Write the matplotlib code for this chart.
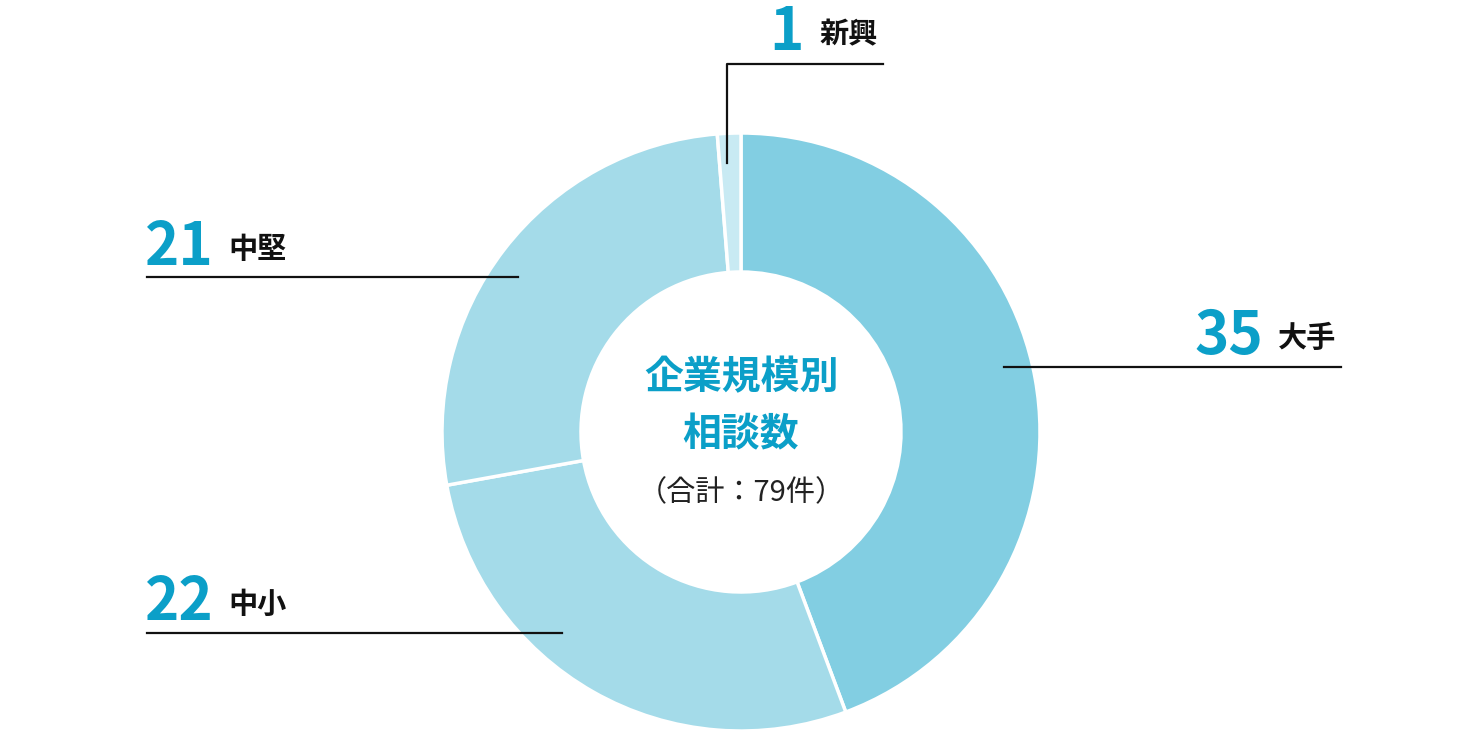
import matplotlib
matplotlib.use("Agg")
import matplotlib.pyplot as plt

plt.rcParams["font.family"] = ["Noto Sans CJK JP", "DejaVu Sans"]

categories = ["大手", "中小", "中堅", "新興"]
counts = [35, 22, 21, 1]
colors = ["#82CEE2", "#A4DBE9", "#A4DBE9", "#C8EAF3"]
title_lines = ["企業規模別", "相談数"]
total_label = "（合計：{}件）".format(sum(counts))

W, H = 1480, 736
BLUE = "#0B9FC8"


def py(y):
    # pixel row (from top) to data y
    return H - y


fig = plt.figure(figsize=(W / 100, H / 100), dpi=100)
ax = fig.add_axes([0, 0, 1, 1])
ax.set_xlim(0, W)
ax.set_ylim(0, H)
ax.set_aspect("equal")
ax.axis("off")

cx, cy, r_out, r_in = 741, 432, 299, 160
ax.pie(counts, colors=colors, startangle=90, counterclock=False,
       center=(cx, py(cy)), radius=r_out, frame=True,
       wedgeprops=dict(width=r_out - r_in, edgecolor="white", linewidth=2.5))
ax.set_xlim(0, W)
ax.set_ylim(0, H)
ax.axis("off")

# center text
ax.text(cx, py(378), title_lines[0], fontsize=28, fontweight="bold",
        color=BLUE, ha="center", va="center")
ax.text(cx, py(435), title_lines[1], fontsize=28, fontweight="bold",
        color=BLUE, ha="center", va="center")
ax.text(cx, py(493), total_label, fontsize=21, color="#222222",
        ha="center", va="center")

lc = "#111111"
# 大手
ax.plot([1004, 1341], [py(367), py(367)], color=lc, lw=1.6)
ax.text(1263, py(354), str(counts[0]), fontsize=42, fontweight="bold",
        color=BLUE, ha="right", va="baseline")
ax.text(1278, py(347), categories[0], fontsize=21, fontweight="bold",
        color="#111111", ha="left", va="baseline")
# 中小
ax.plot([147, 562], [py(633), py(633)], color=lc, lw=1.6)
ax.text(145, py(620), str(counts[1]), fontsize=42, fontweight="bold",
        color=BLUE, ha="left", va="baseline")
ax.text(228, py(613), categories[1], fontsize=21, fontweight="bold",
        color="#111111", ha="left", va="baseline")
# 中堅
ax.plot([147, 518], [py(277), py(277)], color=lc, lw=1.6)
ax.text(145, py(265), str(counts[2]), fontsize=42, fontweight="bold",
        color=BLUE, ha="left", va="baseline")
ax.text(228, py(258), categories[2], fontsize=21, fontweight="bold",
        color="#111111", ha="left", va="baseline")
# 新興
ax.plot([727, 727, 883], [py(163), py(64), py(64)], color=lc, lw=1.6)
ax.text(804, py(50), str(counts[3]), fontsize=42, fontweight="bold",
        color=BLUE, ha="right", va="baseline")
ax.text(819, py(43), categories[3], fontsize=21, fontweight="bold",
        color="#111111", ha="left", va="baseline")

fig.savefig("out.png", dpi=100, facecolor="white")
